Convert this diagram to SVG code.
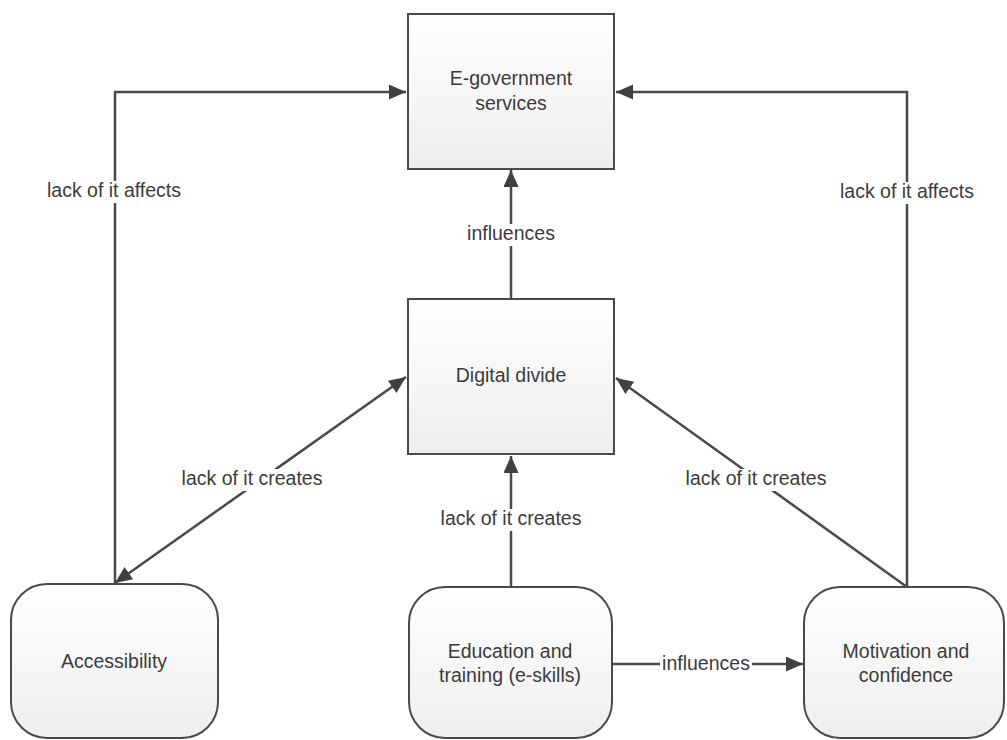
<svg xmlns="http://www.w3.org/2000/svg" width="1007" height="740" viewBox="0 0 1007 740">
  <defs>
    <linearGradient id="boxFill" x1="0" y1="0" x2="0" y2="1">
      <stop offset="0" stop-color="#ffffff"/>
      <stop offset="1" stop-color="#eeeeee"/>
    </linearGradient>
    <marker id="arrow" markerUnits="userSpaceOnUse" markerWidth="19" markerHeight="16" refX="17" refY="7.5" orient="auto-start-reverse">
      <path d="M0,0 L17,7.5 L0,15 z" fill="#404040"/>
    </marker>
    <style>
      .box { fill: url(#boxFill); stroke: #4a4a4a; stroke-width: 2; }
      .label { font-family: "Liberation Sans", Arial, sans-serif; font-size: 19.5px; fill: #3c3c3c; text-anchor: middle; }
      .conn { fill: none; stroke: #4a4a4a; stroke-width: 2.5; }
      .bg { fill: #ffffff; }
    </style>
  </defs>

  <rect width="1007" height="740" fill="#ffffff"/>

  <!-- connectors -->
  <g id="connectors">
    <path class="conn" d="M115,584 V92 H406" marker-end="url(#arrow)"/>
    <path class="conn" d="M907,587 V92 H616" marker-end="url(#arrow)"/>
    <path class="conn" d="M511,299 V170" marker-end="url(#arrow)"/>
    <path class="conn" d="M511,587 V456" marker-end="url(#arrow)"/>
    <path class="conn" d="M115,583 L406,377" marker-start="url(#arrow)" marker-end="url(#arrow)"/>
    <path class="conn" d="M907,587 L616,378" marker-end="url(#arrow)"/>
    <path class="conn" d="M612,664 H803" marker-end="url(#arrow)"/>

    <!-- connector labels -->
    <rect class="bg" x="44" y="181" width="140" height="22"/>
    <text class="label" x="114" y="197">lack of it affects</text>
    <rect class="bg" x="837" y="182" width="140" height="22"/>
    <text class="label" x="907" y="198">lack of it affects</text>
    <rect class="bg" x="464" y="224" width="94" height="22"/>
    <text class="label" x="511" y="240">influences</text>
    <rect class="bg" x="438" y="509" width="146" height="22"/>
    <text class="label" x="511" y="525">lack of it creates</text>
    <rect class="bg" x="179" y="469" width="146" height="22"/>
    <text class="label" x="252" y="485">lack of it creates</text>
    <rect class="bg" x="683" y="469" width="146" height="22"/>
    <text class="label" x="756" y="485">lack of it creates</text>
    <rect class="bg" x="660" y="654" width="92" height="20"/>
    <text class="label" x="706" y="670">influences</text>
  </g>

  <!-- nodes -->
  <g id="egov">
    <rect class="box" x="408" y="14" width="206" height="155"/>
    <text class="label" x="511" y="85">E-government</text>
    <text class="label" x="511" y="110">services</text>
  </g>
  <g id="digital-divide">
    <rect class="box" x="408" y="299" width="206" height="155"/>
    <text class="label" x="511" y="382">Digital divide</text>
  </g>
  <g id="accessibility">
    <rect class="box" x="11" y="584" width="207" height="154" rx="36" ry="36"/>
    <text class="label" x="114" y="668">Accessibility</text>
  </g>
  <g id="education">
    <rect class="box" x="409" y="587" width="203" height="151" rx="36" ry="36"/>
    <text class="label" x="510" y="658">Education and</text>
    <text class="label" x="510" y="682">training (e-skills)</text>
  </g>
  <g id="motivation">
    <rect class="box" x="804" y="587" width="200" height="151" rx="36" ry="36"/>
    <text class="label" x="906" y="658">Motivation and</text>
    <text class="label" x="906" y="682">confidence</text>
  </g>
</svg>
